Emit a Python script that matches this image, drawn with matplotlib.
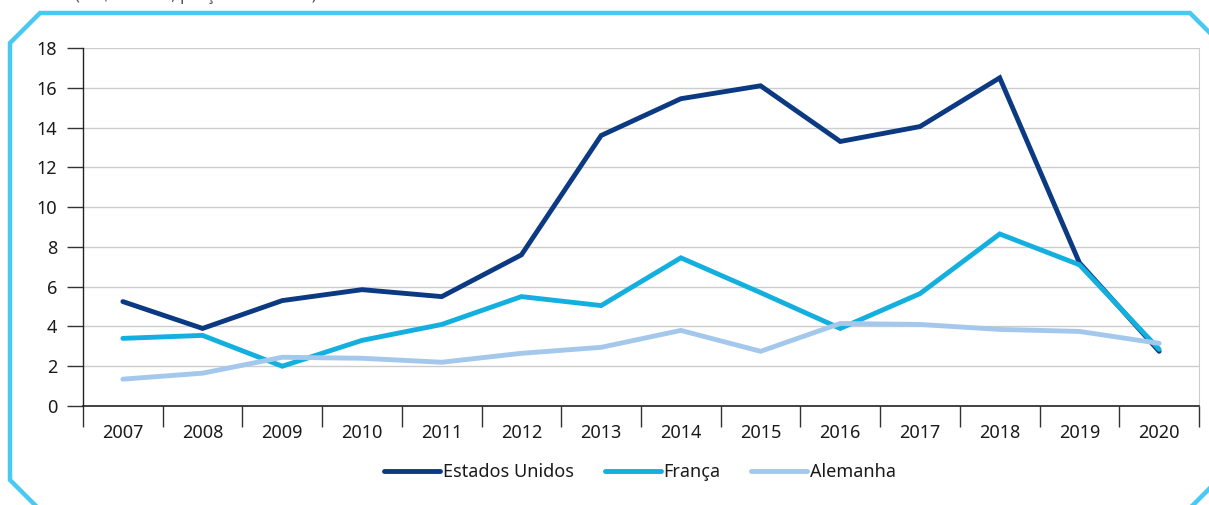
import matplotlib
matplotlib.use("Agg")
import matplotlib.pyplot as plt
from matplotlib.lines import Line2D
import numpy as np

plt.rcParams['font.family'] = ['Noto Sans', 'DejaVu Sans']

years = ['2007', '2008', '2009', '2010', '2011', '2012', '2013',
         '2014', '2015', '2016', '2017', '2018', '2019', '2020']
estados_unidos = [5.25, 3.9, 5.3, 5.85, 5.5, 7.6, 13.6, 15.45, 16.1, 13.3, 14.05, 16.5, 7.2, 2.75]
franca = [3.4, 3.55, 2.0, 3.3, 4.1, 5.5, 5.05, 7.45, 5.7, 3.9, 5.65, 8.65, 7.1, 2.85]
alemanha = [1.35, 1.65, 2.45, 2.4, 2.2, 2.65, 2.95, 3.8, 2.75, 4.15, 4.1, 3.85, 3.75, 3.15]
series_names = ['Estados Unidos', 'França', 'Alemanha']
yticks = [0, 2, 4, 6, 8, 10, 12, 14, 16, 18]

W, H = 1209, 505
fig = plt.figure(figsize=(W / 100, H / 100), dpi=100)
ax = fig.add_axes([83 / W, 1 - 406 / H, (1199 - 83) / W, (406 - 48) / H])

x = np.arange(len(years))
colors = ['#0b3a82', '#13b0df', '#a3c8ec']
for vals, name, c in zip([estados_unidos, franca, alemanha], series_names, colors):
    ax.plot(x, vals, color=c, lw=3.5, label=name, solid_capstyle='round',
            solid_joinstyle='miter')

ax.set_xlim(-0.5, len(years) - 0.5)
ax.set_ylim(0, 18)
ax.set_yticks(yticks)
ax.set_yticklabels([str(v) for v in yticks])
ax.set_xticks(x)
ax.set_xticklabels(years)
ax.set_xticks(np.arange(-0.5, len(years), 1), minor=True)

ax.grid(axis='y', color='#cccccc', lw=1.0)
ax.set_axisbelow(True)
ax.tick_params(axis='x', which='major', length=0, pad=13, labelsize=13, labelcolor='#1a1a1a')
ax.tick_params(axis='x', which='minor', length=15, width=1, color='#333333', direction='out')
ax.tick_params(axis='y', length=11.5, width=1, color='#333333', pad=7, labelsize=13, labelcolor='#1a1a1a')

ax.spines['top'].set_visible(False)
ax.spines['right'].set_color('#cccccc')
ax.spines['left'].set_color('#222222')
ax.spines['bottom'].set_color('#222222')
ax.spines['left'].set_linewidth(1)
ax.spines['bottom'].set_linewidth(1.2)

leg = fig.legend(loc='center', bbox_to_anchor=(640 / W, 1 - 472 / H), ncol=3,
                 frameon=False, fontsize=13, handlelength=3.1, handletextpad=0.15,
                 columnspacing=1.7)
for t in leg.get_texts():
    t.set_color('#1a1a1a')
for h in leg.get_lines():
    h.set_linewidth(3.5)
    h.set_solid_capstyle('round')

# decorative frame with chamfered corners
def P(px, py):
    return px / W, 1 - py / H

frame_color = '#48c8f2'
pts = [P(37, 507), P(10, 480), P(10, 43), P(40, 13), P(1190, 13), P(1211, 34)]
fig.add_artist(Line2D([p[0] for p in pts], [p[1] for p in pts], color=frame_color,
                      lw=3.2, solid_joinstyle='miter', transform=fig.transFigure))
pts2 = [P(1191, 507), P(1211, 487)]
fig.add_artist(Line2D([p[0] for p in pts2], [p[1] for p in pts2], color=frame_color,
                      lw=3.2, transform=fig.transFigure))

# cut-off subtitle at top (only its lower edge is visible, as in the reference)
fig.text(75 / W, 1 - 4 / H, '(US$ bilhões, preços correntes)', ha='left', va='bottom',
         fontsize=12, color='#555555')

fig.savefig('out.png', dpi=100)
